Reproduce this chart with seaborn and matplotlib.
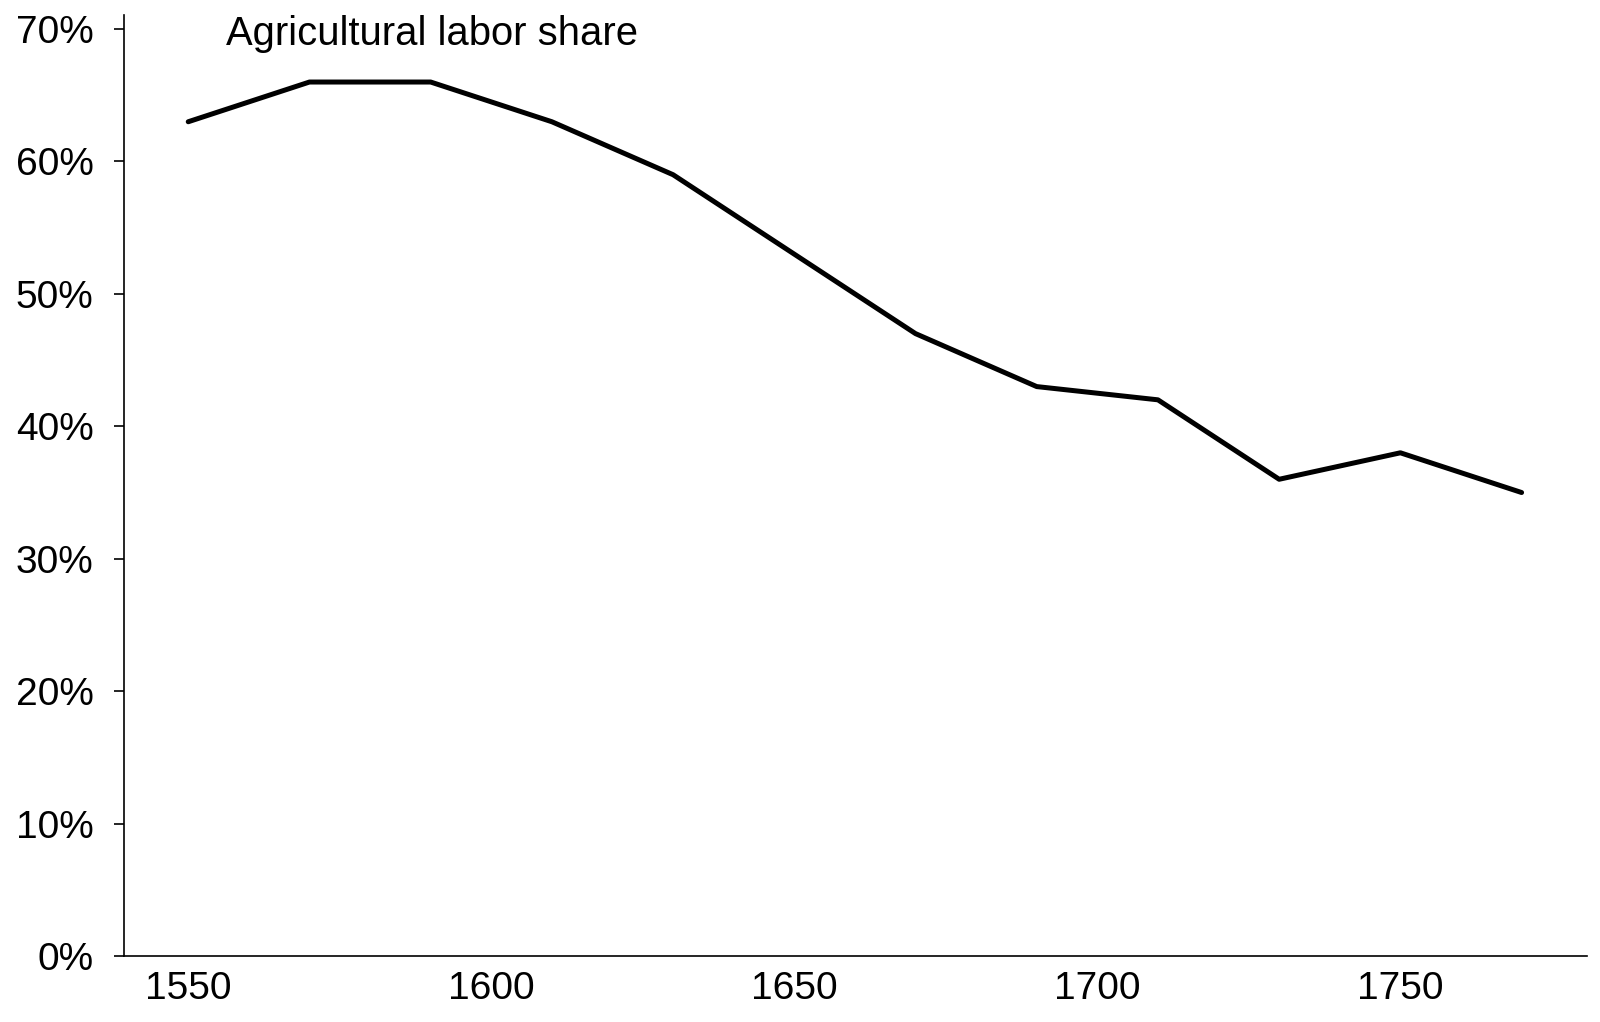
import matplotlib
matplotlib.use("Agg")
import matplotlib.pyplot as plt
import seaborn as sns
import pandas as pd
from matplotlib.ticker import FuncFormatter

years = [1550, 1570, 1590, 1610, 1630, 1650, 1670, 1690, 1710, 1730, 1750, 1770]
ag_share = [63, 66, 66, 63, 59, 53, 47, 43, 42, 36, 38, 35]
xticks = [1550, 1600, 1650, 1700, 1750]
yticks = [0, 10, 20, 30, 40, 50, 60, 70]

df = pd.DataFrame({"year": years, "share": ag_share})

sns.set_theme(style="ticks")
plt.rcParams["font.family"] = ["Liberation Sans", "DejaVu Sans"]

fig = plt.figure(figsize=(16, 10.22), dpi=100)
ax = fig.add_axes([0.0775, 0.0646, 0.9144, 0.9207])

sns.lineplot(data=df, x="year", y="share", color="black", linewidth=3.6, ax=ax)

ax.set_xlim(1539.4, 1780.8)
ax.set_ylim(0, 71.06)
ax.set_xticks(xticks)
ax.set_yticks(yticks)
ax.yaxis.set_major_formatter(FuncFormatter(lambda v, p: f"{v:.0f}%"))
ax.set_xlabel("")
ax.set_ylabel("")
ax.tick_params(axis="y", length=7, width=1.2, pad=15, labelsize=28, color="black", labelcolor="black")
ax.tick_params(axis="x", length=0, pad=11, labelsize=28, labelcolor="black")
for s in ["top", "right"]:
    ax.spines[s].set_visible(False)
for s in ["left", "bottom"]:
    ax.spines[s].set_linewidth(1.2)
    ax.spines[s].set_color("black")

ax.text(1556.3, 69.6, "Agricultural labor share", fontsize=28.8, color="black", va="center")

fig.savefig("out.png", dpi=100)
